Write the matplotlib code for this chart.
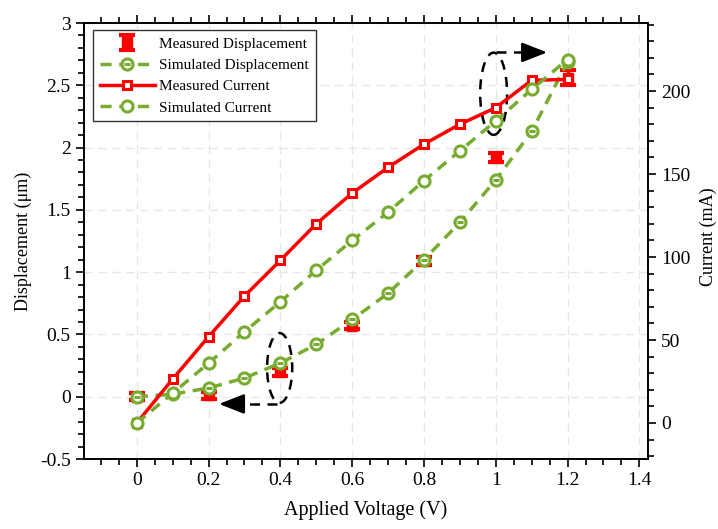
import matplotlib
matplotlib.use("Agg")
import matplotlib.pyplot as plt
import matplotlib.ticker as ticker
from matplotlib.patches import Ellipse
from matplotlib.path import Path

plt.rcParams['font.family'] = ['Liberation Serif', 'DejaVu Serif']
plt.rcParams['axes.unicode_minus'] = False
plt.rcParams['mathtext.fontset'] = 'stix'

# data
volt_meas = [0, 0.2, 0.4, 0.6, 0.8, 1.0, 1.2]
disp_meas = [0.0, 0.01, 0.2, 0.57, 1.09, 1.92, 2.56]
disp_err = [0.03, 0.03, 0.03, 0.03, 0.03, 0.035, 0.06]

volt = [0, 0.1, 0.2, 0.3, 0.4, 0.5, 0.6, 0.7, 0.8, 0.9, 1.0, 1.1, 1.2]
disp_sim = [0.0, 0.02, 0.07, 0.15, 0.27, 0.42, 0.62, 0.83, 1.1, 1.4, 1.74, 2.13, 2.69]
curr_meas = [0, 26.5, 52, 76.5, 98, 120, 138.5, 154, 168, 180, 190, 206.5, 207]
curr_sim = [0, 18, 36, 55, 73, 92, 110, 127, 146, 164, 182, 201, 219]

RED = "#FF0000"
GREEN = "#77AC30"

# circle with a bar through it for the simulated displacement
circ_bar = Path.make_compound_path(
    Path.unit_circle(),
    Path([[-0.55, 0], [0.55, 0]], [Path.MOVETO, Path.LINETO]))

fig = plt.figure(figsize=(7.18, 5.29), dpi=100)
ax = fig.add_axes([0.117, 0.1323, 0.7855, 0.8242])
ax2 = ax.twinx()

dash = (0, (3.2, 2.2))

h1 = ax.errorbar(volt_meas, disp_meas, yerr=disp_err, fmt='s', color=RED,
                 markersize=7.5, elinewidth=2.5, capsize=5.5, capthick=3,
                 label="Measured Displacement", zorder=3)
h2, = ax.plot(volt, disp_sim, color=GREEN, linestyle=dash, linewidth=2.5,
              marker=circ_bar, markersize=8, markerfacecolor='white',
              markeredgecolor=GREEN, markeredgewidth=2.2,
              label="Simulated Displacement", zorder=4)
h3, = ax2.plot(volt, curr_meas, color=RED, linewidth=2.5, marker='s',
               markersize=6, markerfacecolor='white', markeredgecolor=RED,
               markeredgewidth=2.2, label="Measured Current", zorder=3)
h4, = ax2.plot(volt, curr_sim, color=GREEN, linestyle=dash, linewidth=2.5,
               marker='o', markersize=8, markerfacecolor='white',
               markeredgecolor=GREEN, markeredgewidth=2.2,
               label="Simulated Current", zorder=4)

# axes ranges and ticks
ax.set_xlim(-0.147, 1.424)
ax.set_ylim(-0.5, 3)
ax2.set_ylim(-21.7, 241)

ax.xaxis.set_major_locator(ticker.MultipleLocator(0.2))
ax.xaxis.set_minor_locator(ticker.MultipleLocator(0.05))
ax.yaxis.set_major_locator(ticker.MultipleLocator(0.5))
ax.yaxis.set_minor_locator(ticker.MultipleLocator(0.1))
ax2.yaxis.set_major_locator(ticker.MultipleLocator(50))
ax2.yaxis.set_minor_locator(ticker.MultipleLocator(10))
ax.xaxis.set_major_formatter(ticker.FormatStrFormatter('%g'))
ax.yaxis.set_major_formatter(ticker.FormatStrFormatter('%g'))
ax2.yaxis.set_major_formatter(ticker.FormatStrFormatter('%g'))

ax.tick_params(which='both', direction='out', top=True, right=False,
               labelsize=14, width=1.2)
ax.tick_params(which='major', length=6)
ax.tick_params(which='minor', length=4)
ax2.tick_params(which='both', direction='out', labelsize=14, width=1.2)
ax2.tick_params(which='major', length=6)
ax2.tick_params(which='minor', length=4)

for a in (ax, ax2):
    for s in a.spines.values():
        s.set_linewidth(1.2)

ax.grid(True, which='major', linestyle=(0, (6, 4)), color='#e6e6e6', linewidth=1)
ax.set_axisbelow(True)

ax.set_xlabel("Applied Voltage (V)", fontsize=14.5, labelpad=8)
ax.set_ylabel("Displacement (μm)", fontsize=13, labelpad=6)
ax2.set_ylabel("Current (mA)", fontsize=13)
ax2.yaxis.set_label_coords(1.092, 0.51)

# annotations: ellipses + arrows pointing to each axis
ax.add_patch(Ellipse((0.398, 0.231), 0.07, 0.56, fill=False, edgecolor='k',
                     linestyle=(0, (4, 3)), linewidth=1.8, zorder=5))
ax.plot([0.391, 0.27], [-0.058, -0.058], color='k', linestyle=(0, (4, 3)),
        linewidth=1.8, zorder=5)
ax.annotate('', xy=(0.229, -0.058), xytext=(0.28, -0.058),
            arrowprops=dict(arrowstyle='-|>,head_length=1.4,head_width=0.55',
                            color='k', lw=1.8, mutation_scale=11,
                            shrinkA=0, shrinkB=0), zorder=5)

ax.add_patch(Ellipse((0.994, 2.432), 0.075, 0.66, fill=False, edgecolor='k',
                     linestyle=(0, (4, 3)), linewidth=1.8, zorder=5))
ax.plot([1.0, 1.10], [2.764, 2.764], color='k', linestyle=(0, (4, 3)),
        linewidth=1.8, zorder=5)
ax.annotate('', xy=(1.143, 2.764), xytext=(1.09, 2.764),
            arrowprops=dict(arrowstyle='-|>,head_length=1.4,head_width=0.55',
                            color='k', lw=1.8, mutation_scale=11,
                            shrinkA=0, shrinkB=0), zorder=5)

leg = ax2.legend([h1, h2, h3, h4],
                 ["Measured Displacement", "Simulated Displacement",
                  "Measured Current", "Simulated Current"],
                 loc='upper left', bbox_to_anchor=(0.016, 0.984),
                 fontsize=11, handlelength=3.6, fancybox=False,
                 framealpha=1, edgecolor='#333333', borderpad=0.45,
                 labelspacing=0.5, handletextpad=0.3, borderaxespad=0)
leg.get_frame().set_linewidth(1)

fig.savefig("out.png", dpi=100)
